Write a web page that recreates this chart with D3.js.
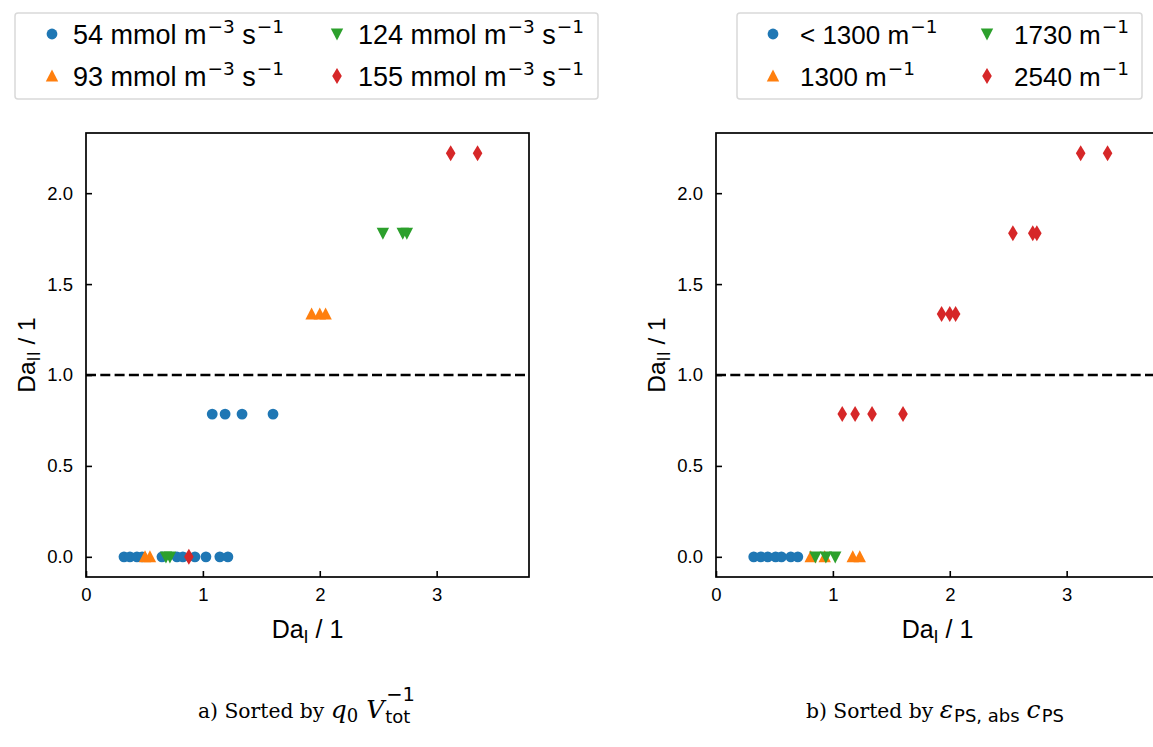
<!DOCTYPE html>
<html><head><meta charset="utf-8">
<script src="https://cdn.jsdelivr.net/npm/d3@7"></script>
<style>body{margin:0;background:#fff}svg{display:block}</style>
</head><body>
<script>
// ---- data ----
const xTicks = [0, 1, 2, 3];
const yTicks = [0.0, 0.5, 1.0, 1.5, 2.0];
const xLimits = [0, 3.79];
const yLimits = [-0.111, 2.331];
const dashY = 1.0;

// panel a) grouped by q0 / V_tot
const aLabels = ["54", "93", "124", "155"];
const aBlueX  = [0.325, 0.376, 0.436, 0.48, 0.65, 0.778, 0.829, 0.932, 1.026, 1.145, 1.214, 1.08, 1.19, 1.335, 1.60];
const aBlueY  = [0, 0, 0, 0, 0, 0, 0, 0, 0, 0, 0, 0.785, 0.785, 0.785, 0.785];
const aOrangeX = [0.505, 0.547, 1.93, 2.00, 2.05];
const aOrangeY = [0, 0, 1.335, 1.335, 1.335];
const aGreenX = [0.684, 0.718, 2.54, 2.71, 2.745];
const aGreenY = [0, 0, 1.78, 1.78, 1.78];
const aRedX = [0.88, 3.12, 3.35];
const aRedY = [0, 2.22, 2.22];

// panel b) grouped by eps_PS,abs c_PS
const bLabels = ["< 1300", "1300", "1730", "2540"];
const bBlueX = [0.323, 0.383, 0.443, 0.51, 0.56, 0.64, 0.70];
const bBlueY = [0, 0, 0, 0, 0, 0, 0];
const bOrangeX = [0.81, 0.93, 1.17, 1.23];
const bOrangeY = [0, 0, 0, 0];
const bGreenX = [0.85, 0.94, 1.02];
const bGreenY = [0, 0, 0];
const bRedX = [1.08, 1.19, 1.335, 1.60, 1.93, 2.00, 2.05, 2.54, 2.71, 2.745, 3.12, 3.35];
const bRedY = [0.785, 0.785, 0.785, 0.785, 1.335, 1.335, 1.335, 1.78, 1.78, 1.78, 2.22, 2.22];

const colors = ["#1f77b4", "#ff7f0e", "#2ca02c", "#d62728"];
const shapes = ["circle", "triangleUp", "triangleDown", "thinDiamond"];

// ---- drawing ----
const W = 1153, H = 747;
const sans = "'Liberation Sans', Arial, sans-serif";
const mathSans = "'DejaVu Sans', sans-serif";
const svg = d3.select("body").append("svg").attr("width", W).attr("height", H)
  .attr("font-family", sans);

function shapePath(kind) {
  const p = d3.path();
  if (kind === "circle") { p.arc(0, 0, 5.4, 0, 2 * Math.PI); }
  else if (kind === "triangleUp") { p.moveTo(0, -6.6); p.lineTo(6.2, 5.4); p.lineTo(-6.2, 5.4); p.closePath(); }
  else if (kind === "triangleDown") { p.moveTo(0, 6.6); p.lineTo(6.2, -5.4); p.lineTo(-6.2, -5.4); p.closePath(); }
  else { p.moveTo(0, -8); p.lineTo(4.8, 0); p.lineTo(0, 8); p.lineTo(-4.8, 0); p.closePath(); }
  return p.toString();
}

function panel(x0, x1, series) {
  const top = 133, bottom = 577;
  const x = d3.scaleLinear().domain(xLimits).range([x0, x1]);
  const y = d3.scaleLinear().domain(yLimits).range([bottom, top]);
  const g = svg.append("g");

  series.forEach((s, i) => {
    g.append("g").selectAll("path").data(d3.zip(s[0], s[1])).join("path")
      .attr("d", shapePath(shapes[i]))
      .attr("transform", d => `translate(${x(d[0])},${y(d[1])})`)
      .attr("fill", colors[i]);
  });

  g.append("line").attr("x1", x0).attr("x2", x1).attr("y1", y(dashY)).attr("y2", y(dashY))
    .attr("stroke", "#000").attr("stroke-width", 2.6).attr("stroke-dasharray", "10,4.3");

  const xa = g.append("g").attr("transform", `translate(0,${bottom})`)
    .call(d3.axisBottom(x).tickValues(xTicks).tickFormat(d3.format("d")).tickSizeInner(-6).tickSizeOuter(0).tickPadding(11));
  const ya = g.append("g").attr("transform", `translate(${x0},0)`)
    .call(d3.axisLeft(y).tickValues(yTicks).tickFormat(d3.format(".1f")).tickSizeInner(-6).tickSizeOuter(0).tickPadding(13));
  [xa, ya].forEach(a => {
    a.select(".domain").remove();
    a.selectAll(".tick line").attr("stroke", "#000").attr("stroke-width", 1.6);
    a.selectAll(".tick text").attr("font-size", 18.5).attr("fill", "#000").attr("font-family", sans);
  });
  g.append("rect").attr("x", x0).attr("y", top).attr("width", x1 - x0).attr("height", bottom - top)
    .attr("fill", "none").attr("stroke", "#000").attr("stroke-width", 1.7);

  const cx = (x0 + x1) / 2;
  const xl = g.append("text").attr("x", cx).attr("y", 638).attr("text-anchor", "middle").attr("font-size", 25);
  xl.append("tspan").text("Da");
  xl.append("tspan").attr("font-size", 17).attr("font-family", mathSans).attr("dy", 5).text("I");
  xl.append("tspan").attr("dy", -5).text(" / 1");
  const yl = g.append("text").attr("transform", `translate(${x0 - 51},${(top + bottom) / 2}) rotate(-90)`)
    .attr("text-anchor", "middle").attr("font-size", 24.5);
  yl.append("tspan").text("Da");
  yl.append("tspan").attr("font-size", 17).attr("font-family", mathSans).attr("dy", 5).text("II");
  yl.append("tspan").attr("dy", -5).text(" / 1");
}

panel(86, 529, [[aBlueX, aBlueY], [aOrangeX, aOrangeY], [aGreenX, aGreenY], [aRedX, aRedY]]);
panel(716, 1159, [[bBlueX, bBlueY], [bOrangeX, bOrangeY], [bGreenX, bGreenY], [bRedX, bRedY]]);

// legends
function legend(bx, bw, labels, unitFn, col1x, col2x, textOff, fs) {
  const g = svg.append("g");
  g.append("rect").attr("x", bx).attr("y", 13).attr("width", bw).attr("height", 86).attr("rx", 3)
    .attr("fill", "#fff").attr("stroke", "#d9d9d9").attr("stroke-width", 1.5);
  [0, 1, 2, 3].forEach(i => {
    const colX = i < 2 ? col1x : col2x;
    const rowY = i % 2 === 0 ? 34 : 76;
    g.append("path").attr("d", shapePath(shapes[i])).attr("transform", `translate(${colX},${rowY})`).attr("fill", colors[i]);
    const t = g.append("text").attr("x", colX + textOff).attr("y", rowY + 9.5).attr("font-size", fs);
    unitFn(t, labels[i]);
  });
}
function sup(t, s) {
  t.append("tspan").attr("font-size", 18.5).attr("font-family", mathSans).attr("dx", 1).attr("dy", -11).text(s);
}
function unitA(t, v) {
  t.append("tspan").text(v + " mmol m");
  sup(t, "−3");
  t.append("tspan").attr("dy", 11).text(" s");
  sup(t, "−1");
}
function unitB(t, v) {
  t.append("tspan").text(v + " m");
  sup(t, "−1");
}
legend(15, 583, aLabels, unitA, 52, 337, 21, 27);
legend(737, 405, bLabels, unitB, 773, 987, 27, 26);

// captions
const serif = "'DejaVu Serif', 'Liberation Serif', serif";
const ca = svg.append("text").attr("x", 198).attr("y", 718)
  .attr("font-family", serif).attr("font-size", 20.3);
ca.append("tspan").text("a) Sorted by ");
ca.append("tspan").attr("font-style", "italic").attr("font-size", 25).text("q");
ca.append("tspan").attr("font-size", 18).attr("dy", 4).text("0");
ca.append("tspan").attr("dy", -4).attr("font-size", 25).text(" ");
ca.append("tspan").attr("font-style", "italic").attr("font-size", 25).text("V");
const tot = ca.append("tspan").attr("font-size", 18).attr("font-family", mathSans).attr("dy", 5).attr("dx", 1).text("tot");
const totPos = tot.node().getStartPositionOfChar(0);
svg.append("text").attr("x", totPos.x + 1).attr("y", 701).attr("font-family", mathSans)
  .attr("font-size", 19.5).text("−1");

const cb = svg.append("text").attr("x", 806).attr("y", 718)
  .attr("font-family", serif).attr("font-size", 20.3);
cb.append("tspan").text("b) Sorted by ");
cb.append("tspan").attr("font-style", "italic").attr("font-size", 25).text("ε");
cb.append("tspan").attr("font-size", 18).attr("dy", 4).attr("dx", 1).attr("font-family", mathSans).text("PS, abs");
cb.append("tspan").attr("dy", -4).attr("font-size", 22).text(" ");
cb.append("tspan").attr("font-style", "italic").attr("font-size", 25).text("c");
cb.append("tspan").attr("font-size", 18).attr("dy", 4).attr("dx", 1).attr("font-family", mathSans).text("PS");
</script>
</body></html>
